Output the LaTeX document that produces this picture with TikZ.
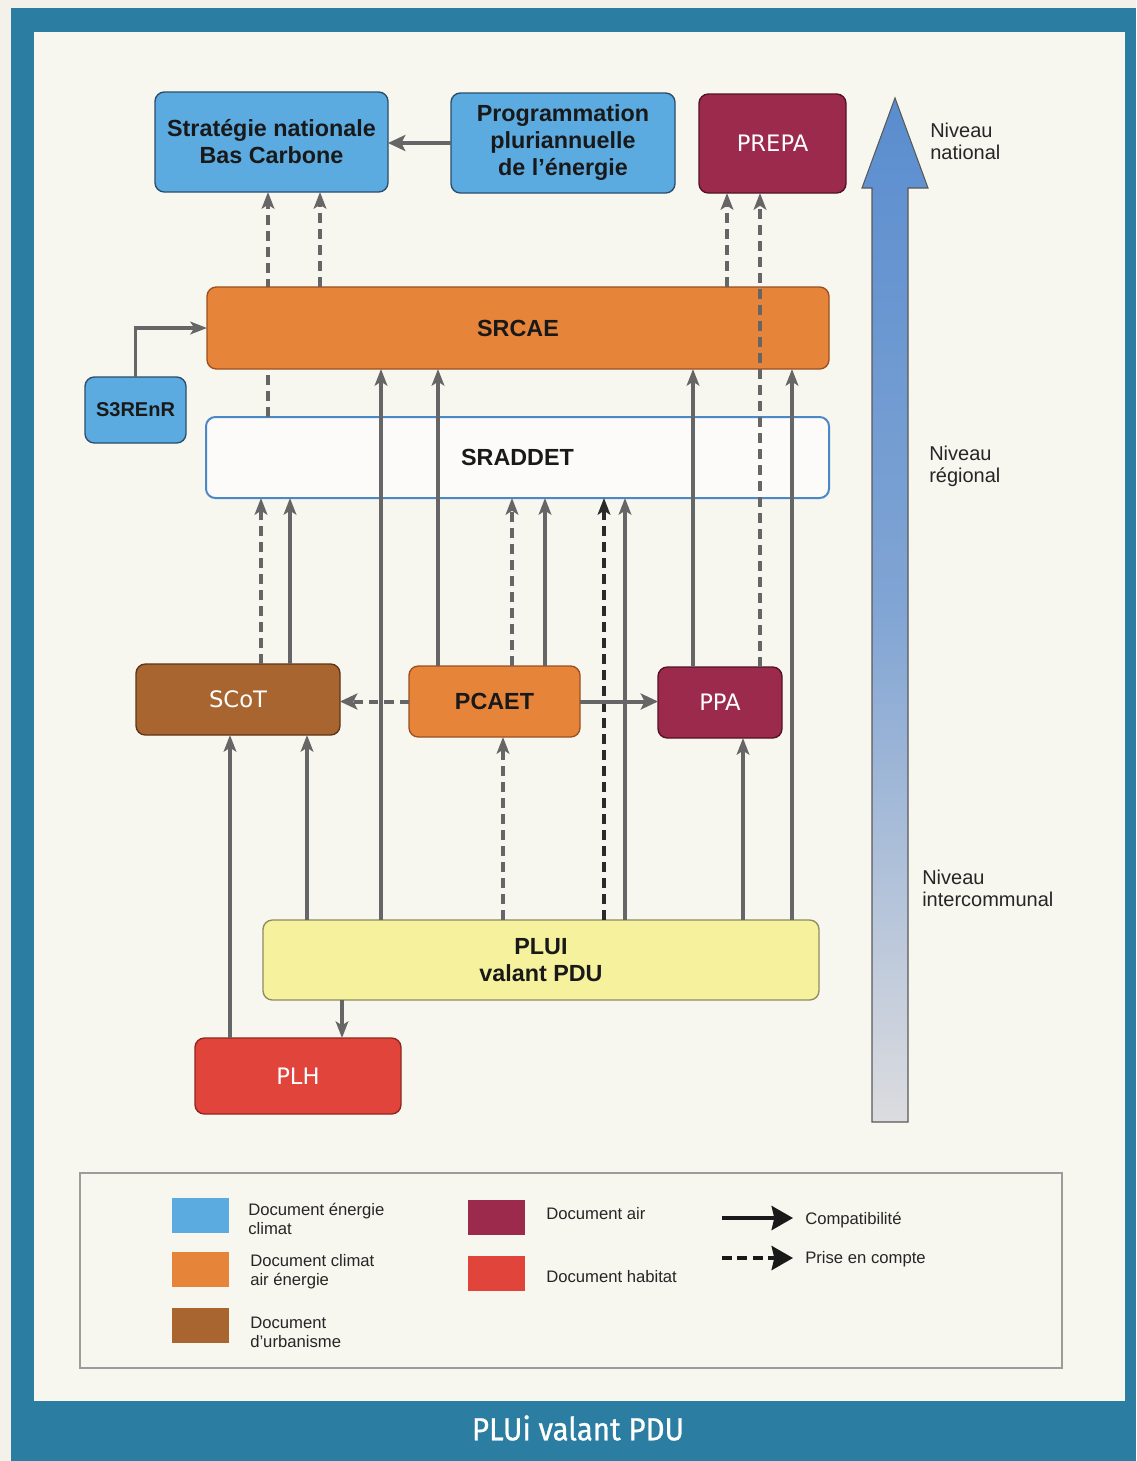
\documentclass[tikz,border=0pt]{standalone}
\usepackage{fontspec}
\setmainfont{Liberation Sans}
\newfontfamily\whitefont{DejaVu Sans}
\newfontfamily\titlefont[FakeStretch=0.92,FakeBold=0.8]{Fira Sans}
\usetikzlibrary{arrows.meta}

\definecolor{pagebg}{HTML}{F3F1EA}
\definecolor{frameteal}{HTML}{2B7EA2}
\definecolor{panelbg}{HTML}{F7F6EF}
\definecolor{cblue}{HTML}{5BAAE0}
\definecolor{cblueD}{HTML}{2A4E6C}
\definecolor{corange}{HTML}{E6843A}
\definecolor{corangeD}{HTML}{9A5020}
\definecolor{cbrown}{HTML}{A8652F}
\definecolor{cbrownD}{HTML}{5E3516}
\definecolor{ccrimson}{HTML}{9B2A4C}
\definecolor{ccrimsonD}{HTML}{551226}
\definecolor{cyellow}{HTML}{F6F19C}
\definecolor{cyellowD}{HTML}{8E8C62}
\definecolor{cred}{HTML}{E0443A}
\definecolor{credD}{HTML}{8E261F}
\definecolor{sradline}{HTML}{4A88C8}
\definecolor{cgray}{HTML}{666666}
\definecolor{cdark}{HTML}{2A2A2A}
\definecolor{legline}{HTML}{9C9C9C}
\definecolor{bigtop}{HTML}{5A8DCF}
\definecolor{bigbot}{HTML}{DCDCDF}

\newcommand\bxfont{\fontsize{17.5}{20.25}\selectfont\bfseries}
\newcommand\whfont{\whitefont\fontsize{17}{20}\selectfont}
\newcommand\lvfont{\fontsize{15}{16.5}\selectfont}
\newcommand\lgfont{\fontsize{12.5}{14}\selectfont}

\begin{document}
\begin{tikzpicture}[x=0.75pt,y=-0.75pt,
  sz/.style 2 args={minimum width=#1*0.75pt, minimum height=#2*0.75pt},
  box/.style={rounded corners=7pt, inner sep=0pt, outer sep=0pt, line width=1pt,
    align=center, font=\bxfont, text=black!90},
  blueb/.style={box, fill=cblue, draw=cblueD},
  orangeb/.style={box, fill=corange, draw=corangeD},
  brownb/.style={box, fill=cbrown, draw=cbrownD, font=\whfont, text=white},
  crimsonb/.style={box, fill=ccrimson, draw=ccrimsonD, font=\whfont, text=white},
  yellowb/.style={box, fill=cyellow, draw=cyellowD},
  redb/.style={box, fill=cred, draw=credD, font=\whfont, text=white},
  whiteb/.style={box, fill=white!60!panelbg, draw=sradline, line width=1.5pt},
  arr/.style={draw=cgray, line width=2.3pt, -{Stealth[length=12.5pt,width=9.5pt,inset=3pt]}},
  darr/.style={arr, line width=2.8pt, dash pattern=on 7.5pt off 4.5pt},
  dkarr/.style={darr, draw=cdark, line width=3.2pt},
  thickarr/.style={draw=cgray, line width=3.4pt, -{Stealth[length=13pt,width=12pt,inset=3pt]}},
  level/.style={anchor=west, align=left, font=\lvfont, text=black!85, inner sep=0pt},
  legtxt/.style={anchor=west, align=left, font=\lgfont, text=black!85, inner sep=0pt},
  swatch/.style={minimum width=42.75pt, minimum height=26.25pt, inner sep=0pt}
]
\useasboundingbox (0,0) rectangle (1136,1461);

% page, frame and panel
\fill[pagebg] (0,0) rectangle (1136,1461);
\fill[frameteal] (11,8) rectangle (1136,1461);
\fill[panelbg] (34,32) rectangle (1125,1401);

% level arrow on the right
\shade[top color=bigtop, bottom color=bigbot, middle color=bigtop!70!bigbot, draw=black!65, line width=0.8pt]
  (872,1122) -- (872,188) -- (862,188) -- (895,98) -- (928,188) -- (908,188) -- (908,1122) -- cycle;
\node[level] (lvnat) at (930,141) {Niveau\\national};
\node[level] (lvreg) at (929,466) {Niveau\\régional};
\node[level] (lvint) at (922,888) {Niveau\\intercommunal};

% columns used by the vertical connectors
\foreach \c in {230,261,268,290,307,320,342,381,438,503,512,545,604,625,693,727,743,760,792}
  \coordinate (c\c) at (\c,0);

% national level
\node[blueb, sz={233}{100}] (snbc) at (271.5,142) {Stratégie nationale\\Bas Carbone};
\node[blueb, sz={224}{100}] (ppe) at (563,143) {Programmation\\pluriannuelle\\de l'énergie};
\node[crimsonb, sz={147}{99}] (prepa) at (772.5,143.5) {PREPA};

% regional level
\node[whiteb, sz={623}{81}] (sraddet) at (517.5,457.5) {SRADDET};
% this one runs behind the SRCAE box
\draw[darr] (sraddet.north -| c268) -- (snbc.south -| c268);
\node[orangeb, sz={622}{82}] (srcae) at (518,328) {SRCAE};
\node[blueb, sz={101}{66}, font=\fontsize{15}{17}\selectfont\bfseries] (s3renr) at (135.5,410) {S3REnR};

% intercommunal level
\node[brownb, sz={204}{71}] (scot) at (238,699.5) {SCoT};
\node[orangeb, sz={171}{71}] (pcaet) at (494.5,701.5) {PCAET};
\node[crimsonb, sz={124}{71}] (ppa) at (720,702.5) {PPA};
\node[yellowb, sz={556}{80}] (plui) at (541,960) {PLUI\\valant PDU};
\node[redb, sz={206}{76}] (plh) at (298,1076) {PLH};

% connectors towards the national level
\draw[thickarr] (ppe.west) -- (ppe.west -| snbc.east);
\draw[darr] (srcae.north -| c320) -- (snbc.south -| c320);
\draw[darr] (srcae.north -| c727) -- (prepa.south -| c727);
\draw[darr] (ppa.north -| c760) -- (prepa.south -| c760);
\draw[arr, line width=2.5pt] (s3renr.north) |- (srcae.west);

% connectors towards SRCAE
\draw[arr] (plui.north -| c381) -- (srcae.south -| c381);
\draw[arr] (pcaet.north -| c438) -- (srcae.south -| c438);
\draw[arr] (ppa.north -| c693) -- (srcae.south -| c693);
\draw[arr] (plui.north -| c792) -- (srcae.south -| c792);

% connectors towards SRADDET
\draw[darr] (scot.north -| c261) -- (sraddet.south -| c261);
\draw[arr] (scot.north -| c290) -- (sraddet.south -| c290);
\draw[darr] (pcaet.north -| c512) -- (sraddet.south -| c512);
\draw[arr] (pcaet.north -| c545) -- (sraddet.south -| c545);
\draw[dkarr] (plui.north -| c604) -- (sraddet.south -| c604);
\draw[arr] (plui.north -| c625) -- (sraddet.south -| c625);

% connectors between local plans
\draw[thickarr, line width=3pt, dash pattern=on 7pt off 4.5pt] (pcaet.west) -- (pcaet.west -| scot.east);
\draw[thickarr, line width=3pt] (pcaet.east) -- (pcaet.east -| ppa.west);
\draw[arr] (plui.north -| c307) -- (scot.south -| c307);
\draw[arr] (plh.north -| c230) -- (scot.south -| c230);
\draw[darr] (plui.north -| c503) -- (pcaet.south -| c503);
\draw[arr] (plui.north -| c743) -- (ppa.south -| c743);
\draw[arr, line width=2.8pt] (plui.south -| c342) -- (plh.north -| c342);

% legend
\draw[legline, line width=1.5pt] (80,1173) rectangle (1062,1368);
\node[swatch, fill=cblue] (sw1) at (200.5,1215.5) {};
\node[swatch, fill=corange] (sw2) at (200.5,1269.5) {};
\node[swatch, fill=cbrown] (sw3) at (200.5,1325) {};
\node[swatch, fill=ccrimson] (sw4) at (496,1217.5) {};
\node[swatch, fill=cred] (sw5) at (496,1273) {};
\node[legtxt] (lg1) at (248,1219) {Document énergie\\climat};
\node[legtxt] (lg2) at (250,1272) {Document climat\\air énergie};
\node[legtxt] (lg3) at (250,1332) {Document\\d'urbanisme};
\node[legtxt] (lg4) at (546,1214) {Document air};
\node[legtxt] (lg5) at (546,1277) {Document habitat};
\node[legtxt] (lg6) at (805,1220) {Compatibilité};
\node[legtxt] (lg7) at (805,1259) {Prise en compte};
\coordinate (la1) at (722,1218);
\coordinate (la2) at (793,1218);
\coordinate (lb1) at (722,1258);
\coordinate (lb2) at (793,1258);
\draw[black!90, line width=3pt, -{Stealth[length=16pt,width=18pt,inset=2pt]}] (la1) -- (la2);
\draw[black!90, line width=3pt, dash pattern=on 7.5pt off 4pt, -{Stealth[length=16pt,width=18pt,inset=2pt]}] (lb1) -- (lb2);

% caption in the frame
\node[font=\titlefont\fontsize{24}{28}\selectfont, text=white] (title) at (578,1428) {PLUi valant PDU};
\end{tikzpicture}
\end{document}
